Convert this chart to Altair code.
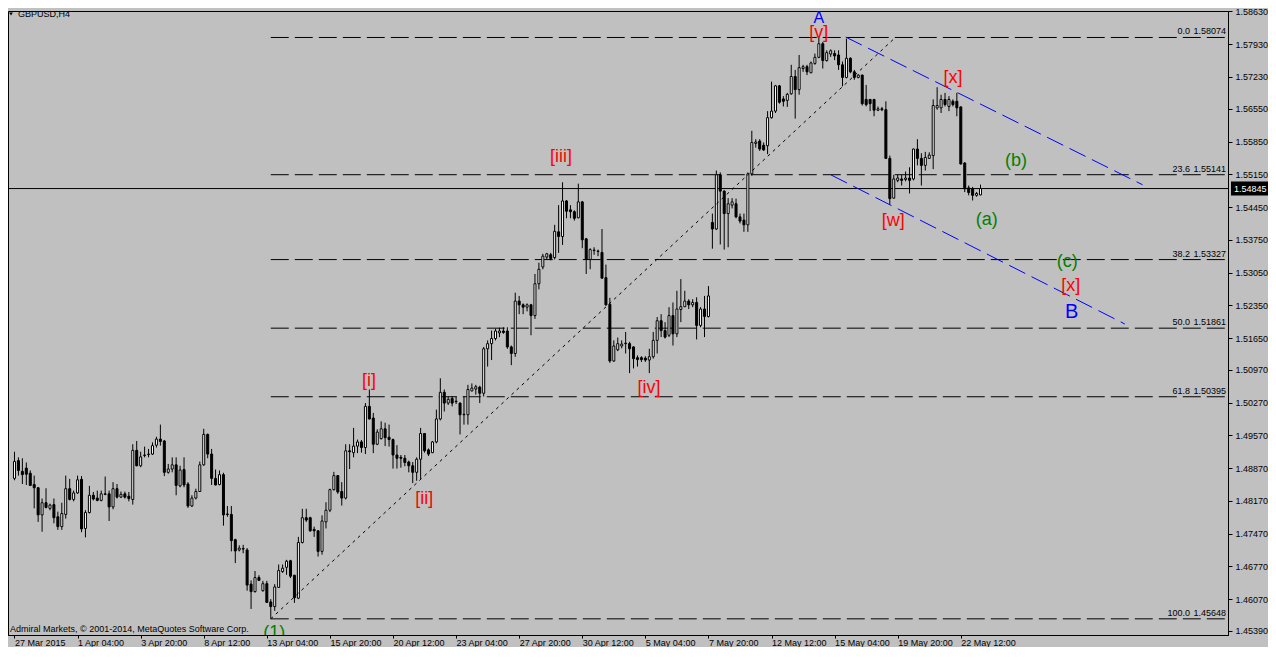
import altair as alt
import pandas as pd

# ---------------- candle data (GBPUSD H4) ----------------
opens = [
 1.4865,1.4903,1.4880,1.4887,1.4876,1.4852,1.4845,1.4787,1.4813,1.4801,
 1.4809,1.4783,1.4762,1.4788,1.4843,1.4820,1.4834,1.4863,1.4758,1.4792,
 1.4829,1.4823,1.4818,1.4832,1.4832,1.4804,1.4843,1.4825,1.4832,1.4827,
 1.4820,1.4925,1.4892,1.4914,1.4916,1.4917,1.4936,1.4949,1.4945,1.4878,
 1.4885,1.4894,1.4849,1.4884,1.4853,1.4806,1.4823,1.4837,1.4894,1.4959,
 1.4917,1.4865,1.4852,1.4873,1.4789,1.4788,1.4734,1.4712,1.4715,1.4712,
 1.4639,1.4623,1.4653,1.4625,1.4640,1.4601,1.4591,1.4632,1.4666,1.4675,
 1.4689,1.4658,1.4609,1.4728,1.4781,1.4781,1.4756,1.4753,1.4709,1.4772,
 1.4797,1.4841,1.4871,1.4837,1.4823,1.4924,1.4920,1.4934,1.4943,1.4931,
 1.5019,1.4994,1.4938,1.4950,1.4971,1.4953,1.4948,1.4915,1.4910,1.4908,
 1.4900,1.4892,1.4878,1.4906,1.4961,1.4926,1.4920,1.4943,1.4992,1.5049,
 1.5026,1.5036,1.5030,1.5026,1.5001,1.5001,1.5052,1.5056,1.5060,1.5047,
 1.5142,1.5153,1.5164,1.5176,1.5180,1.5180,1.5146,1.5132,1.5244,1.5236,
 1.5231,1.5236,1.5213,1.5281,1.5317,1.5338,1.5343,1.5337,1.5392,1.5382,
 1.5458,1.5439,1.5435,1.5422,1.5456,1.5377,1.5333,1.5352,1.5351,1.5348,
 1.5294,1.5237,1.5116,1.5140,1.5148,1.5154,1.5153,1.5146,1.5123,1.5123,
 1.5122,1.5118,1.5125,1.5160,1.5202,1.5181,1.5171,1.5213,1.5174,1.5226,
 1.5232,1.5244,1.5236,1.5241,1.5192,1.5227,1.5211,1.5412,1.5398,1.5514,
 1.5479,1.5431,1.5449,1.5452,1.5424,1.5417,1.5407,1.5516,1.5581,1.5586,
 1.5577,1.5576,1.5636,1.5650,1.5704,1.5676,1.5673,1.5687,1.5724,1.5696,
 1.5741,1.5745,1.5732,1.5752,1.5765,1.5794,1.5758,1.5772,1.5773,1.5770,
 1.5749,1.5722,1.5763,1.5734,1.5722,1.5727,1.5675,1.5675,1.5675,1.5652,
 1.5655,1.5653,1.5549,1.5464,1.5502,1.5505,1.5504,1.5507,1.5505,1.5569,
 1.5549,1.5534,1.5549,1.5555,1.5657,1.5657,1.5675,1.5660,1.5671,1.5671,
 1.5659,1.5539,1.5486,1.5484,1.5470,1.5471,
]
highs = [
 1.4922,1.4910,1.4908,1.4899,1.4882,1.4871,1.4846,1.4822,1.4844,1.4811,
 1.4822,1.4794,1.4813,1.4871,1.4864,1.4839,1.4871,1.4870,1.4797,1.4849,
 1.4836,1.4839,1.4839,1.4869,1.4839,1.4857,1.4853,1.4837,1.4837,1.4836,
 1.4938,1.4945,1.4922,1.4933,1.4928,1.4942,1.4954,1.4980,1.4947,1.4896,
 1.4910,1.4910,1.4892,1.4910,1.4857,1.4829,1.4843,1.4901,1.4971,1.4961,
 1.4928,1.4884,1.4882,1.4877,1.4806,1.4806,1.4736,1.4722,1.4723,1.4716,
 1.4647,1.4667,1.4658,1.4646,1.4646,1.4607,1.4639,1.4681,1.4681,1.4691,
 1.4691,1.4659,1.4740,1.4800,1.4800,1.4783,1.4762,1.4754,1.4786,1.4814,
 1.4843,1.4879,1.4872,1.4857,1.4938,1.4938,1.4973,1.4948,1.4947,1.5026,
 1.5055,1.5005,1.4970,1.4987,1.4984,1.4980,1.4950,1.4936,1.4915,1.4915,
 1.4903,1.4900,1.4910,1.4973,1.4962,1.4929,1.4945,1.5012,1.5079,1.5055,
 1.5040,1.5041,1.5040,1.5027,1.5041,1.5065,1.5068,1.5065,1.5063,1.5146,
 1.5160,1.5181,1.5185,1.5187,1.5188,1.5188,1.5149,1.5262,1.5255,1.5239,
 1.5239,1.5238,1.5302,1.5326,1.5345,1.5347,1.5347,1.5407,1.5449,1.5498,
 1.5460,1.5449,1.5438,1.5495,1.5458,1.5379,1.5357,1.5359,1.5354,1.5398,
 1.5322,1.5251,1.5160,1.5166,1.5160,1.5178,1.5157,1.5147,1.5128,1.5126,
 1.5126,1.5142,1.5178,1.5210,1.5216,1.5199,1.5231,1.5241,1.5266,1.5291,
 1.5266,1.5248,1.5248,1.5252,1.5231,1.5255,1.5276,1.5431,1.5523,1.5519,
 1.5481,1.5464,1.5464,1.5463,1.5431,1.5431,1.5519,1.5608,1.5590,1.5590,
 1.5583,1.5650,1.5713,1.5706,1.5706,1.5682,1.5689,1.5749,1.5738,1.5770,
 1.5749,1.5749,1.5756,1.5773,1.58074,1.5798,1.5780,1.5782,1.5780,1.5780,
 1.5756,1.5805,1.5765,1.5738,1.5729,1.5728,1.5706,1.5676,1.5676,1.5660,
 1.5659,1.5671,1.5555,1.5514,1.5514,1.5514,1.5521,1.5530,1.5570,1.5590,
 1.5560,1.5563,1.5562,1.5675,1.5701,1.5685,1.5689,1.5682,1.5675,1.5689,
 1.5660,1.5541,1.5491,1.5488,1.5477,1.5493,
]
lows = [
 1.4861,1.4871,1.4853,1.4851,1.4849,1.4801,1.4772,1.4751,1.4801,1.4797,
 1.4769,1.4755,1.4755,1.4779,1.4818,1.4816,1.4832,1.4750,1.4739,1.4790,
 1.4818,1.4816,1.4816,1.4829,1.4774,1.4799,1.4822,1.4823,1.4822,1.4816,
 1.4809,1.4891,1.4889,1.4910,1.4910,1.4915,1.4931,1.4935,1.4870,1.4875,
 1.4878,1.4829,1.4846,1.4846,1.4802,1.4804,1.4820,1.4836,1.4892,1.4908,
 1.4851,1.4850,1.4850,1.4764,1.4783,1.4709,1.4684,1.4709,1.4705,1.4625,
 1.4586,1.4621,1.4646,1.4623,1.4599,1.45648,1.4582,1.4631,1.4663,1.4659,
 1.4652,1.4599,1.4607,1.4726,1.4772,1.4751,1.4740,1.4698,1.4702,1.4758,
 1.4793,1.4839,1.4832,1.4807,1.4820,1.4885,1.4910,1.4919,1.4920,1.4917,
 1.4991,1.4919,1.4936,1.4948,1.4934,1.4933,1.4886,1.4886,1.4888,1.4891,
 1.4878,1.4855,1.4860,1.4864,1.4920,1.4913,1.4919,1.4940,1.4989,1.5008,
 1.5022,1.5019,1.5024,1.4959,1.4980,1.4980,1.5051,1.5044,1.5026,1.5040,
 1.5104,1.5118,1.5160,1.5167,1.5174,1.5142,1.5107,1.5125,1.5216,1.5216,
 1.5222,1.5171,1.5206,1.5269,1.5312,1.5333,1.5331,1.5333,1.5347,1.5364,
 1.5421,1.5421,1.5416,1.5421,1.5357,1.5302,1.5312,1.5343,1.5340,1.5292,
 1.5234,1.5112,1.5114,1.5137,1.5143,1.5132,1.5090,1.5100,1.5104,1.5114,
 1.5114,1.5090,1.5121,1.5132,1.5167,1.5164,1.5167,1.5149,1.5167,1.5199,
 1.5231,1.5227,1.5231,1.5162,1.5188,1.5167,1.5209,1.5356,1.5396,1.5365,
 1.5354,1.5359,1.5442,1.5421,1.5410,1.5392,1.5392,1.5512,1.5572,1.5565,
 1.5565,1.5558,1.5634,1.5646,1.5666,1.5660,1.5659,1.5685,1.5634,1.5685,
 1.5734,1.5727,1.5731,1.5749,1.5763,1.5741,1.5756,1.5766,1.5759,1.5738,
 1.5703,1.5720,1.5731,1.5717,1.5720,1.5662,1.5660,1.5650,1.5639,1.5650,
 1.5650,1.5548,1.5450,1.5463,1.5498,1.5491,1.5500,1.5474,1.5502,1.5534,
 1.5491,1.5523,1.5548,1.5526,1.5653,1.5646,1.5660,1.5650,1.5660,1.5639,
 1.5536,1.5477,1.5470,1.5459,1.5467,1.5470,
]
closes = [
 1.4901,1.4882,1.4873,1.4874,1.4850,1.4845,1.4787,1.4813,1.4803,1.4808,
 1.4781,1.4762,1.4790,1.4843,1.4820,1.4834,1.4862,1.4757,1.4792,1.4829,
 1.4821,1.4818,1.4832,1.4831,1.4804,1.4843,1.4825,1.4831,1.4825,1.4822,
 1.4925,1.4892,1.4911,1.4915,1.4917,1.4935,1.4949,1.4944,1.4878,1.4885,
 1.4894,1.4850,1.4883,1.4851,1.4806,1.4823,1.4837,1.4894,1.4959,1.4917,
 1.4865,1.4851,1.4873,1.4787,1.4788,1.4732,1.4710,1.4716,1.4714,1.4637,
 1.4623,1.4653,1.4647,1.4640,1.4600,1.4591,1.4633,1.4668,1.4673,1.4688,
 1.4656,1.4610,1.4728,1.4781,1.4776,1.4753,1.4753,1.4709,1.4774,1.4797,
 1.4841,1.4871,1.4836,1.4823,1.4924,1.4922,1.4934,1.4943,1.4931,1.5019,
 1.4992,1.4938,1.4964,1.4971,1.4952,1.4948,1.4915,1.4908,1.4908,1.4899,
 1.4892,1.4878,1.4906,1.4961,1.4924,1.4917,1.4943,1.4992,1.5049,1.5026,
 1.5034,1.5026,1.5029,1.5001,1.5002,1.5055,1.5058,1.5061,1.5047,1.5142,
 1.5153,1.5164,1.5180,1.5180,1.5177,1.5146,1.5132,1.5244,1.5236,1.5231,
 1.5236,1.5213,1.5281,1.5312,1.5340,1.5345,1.5335,1.5393,1.5382,1.5458,
 1.5436,1.5435,1.5421,1.5456,1.5375,1.5333,1.5354,1.5353,1.5350,1.5293,
 1.5236,1.5116,1.5148,1.5153,1.5152,1.5153,1.5142,1.5121,1.5119,1.5119,
 1.5118,1.5125,1.5160,1.5202,1.5181,1.5167,1.5213,1.5174,1.5227,1.5232,
 1.5244,1.5236,1.5241,1.5192,1.5227,1.5211,1.5255,1.5398,1.5514,1.5479,
 1.5431,1.5452,1.5456,1.5424,1.5415,1.5407,1.5516,1.5583,1.5584,1.5569,
 1.5567,1.5636,1.5650,1.5704,1.5669,1.5671,1.5686,1.5724,1.5696,1.5743,
 1.5745,1.5734,1.5753,1.5765,1.5794,1.5758,1.5775,1.5779,1.5768,1.5749,
 1.5722,1.5763,1.5734,1.5722,1.5727,1.5666,1.5664,1.5666,1.5652,1.5655,
 1.5653,1.5549,1.5463,1.5505,1.5507,1.5502,1.5507,1.5502,1.5569,1.5549,
 1.5534,1.5551,1.5556,1.5662,1.5662,1.5675,1.5664,1.5675,1.5664,1.5657,
 1.5537,1.5484,1.5476,1.5470,1.5474,1.54845,
]

# ---------------- axis labels ----------------
x_tick_idx = [0, 16, 32, 48, 64, 80, 96, 112, 128, 144, 160, 176, 192, 208, 224, 240]
x_tick_text = ["27 Mar 2015", "1 Apr 04:00", "3 Apr 20:00", "8 Apr 12:00", "13 Apr 04:00",
               "15 Apr 20:00", "20 Apr 12:00", "23 Apr 04:00", "27 Apr 20:00", "30 Apr 12:00",
               "5 May 04:00", "7 May 20:00", "12 May 12:00", "15 May 04:00", "19 May 20:00",
               "22 May 12:00"]
y_ticks = [1.58630, 1.57930, 1.57230, 1.56550, 1.55850, 1.55150, 1.54450, 1.53750, 1.53050,
           1.52350, 1.51650, 1.50970, 1.50270, 1.49570, 1.48870, 1.48170, 1.47470, 1.46770,
           1.46070, 1.45390]

# ---------------- fibonacci retracement ----------------
fib_levels = ["0.0", "23.6", "38.2", "50.0", "61.8", "100.0"]
fib_prices = [1.58074, 1.55141, 1.53327, 1.51861, 1.50395, 1.45648]
fib_start_bar = 65
fib_diag_bars = [65, 223.4]
fib_diag_prices = [1.45648, 1.58074]

last_price = 1.54845

# ---------------- channel lines ----------------
chan_group = ["upper", "upper", "lower", "lower"]
chan_bars = [210.8, 286.1, 207.05, 281.6]
chan_prices = [1.58084, 1.54926, 1.55138, 1.51950]

# ---------------- wave labels ----------------
RED, GREEN, BLUE = "#FF0000", "#008000", "#0000FF"
wave_text = ["A", "[v]", "[x]", "[w]", "(a)", "(b)", "(c)", "[x]", "B",
             "[iii]", "[iv]", "[i]", "[ii]", "(1)"]
wave_bar = [204, 204, 238, 222.9, 246.6, 254, 267, 267.9, 268.1,
            138.6, 160.9, 89.9, 103.9, 65.9]
wave_price = [1.58500, 1.58170, 1.57210, 1.54144, 1.54165, 1.55434, 1.53276, 1.52769, 1.52208,
              1.55518, 1.50580, 1.50738, 1.48200, 1.45345]
wave_color = [BLUE, RED, RED, RED, GREEN, GREEN, GREEN, RED, BLUE,
              RED, RED, RED, RED, GREEN]
wave_size = [16, 18, 18, 18, 18, 18, 18, 18, 20, 18, 18, 18, 18, 18]

# ---------------- build chart ----------------
W, H = 1220, 624
PAD_T, PAD_R, PAD_B = 3, 40, 12
FONT = "Liberation Sans"

candles = pd.DataFrame({"idx": list(range(len(opens))), "open": opens, "high": highs,
                        "low": lows, "close": closes})
fib_df = pd.DataFrame({"lvl": fib_levels, "price": fib_prices,
                       "start": [fib_start_bar] * len(fib_levels),
                       "ptxt": ["%.5f" % p for p in fib_prices]})
diag_df = pd.DataFrame({"idx": fib_diag_bars, "price": fib_diag_prices})
chan_df = pd.DataFrame({"grp": chan_group, "idx": chan_bars, "price": chan_prices})
wave_df = pd.DataFrame({"t": wave_text, "idx": wave_bar, "price": wave_price,
                        "col": wave_color, "fs": wave_size})
last_df = pd.DataFrame({"price": [last_price], "ptxt": ["%.5f" % last_price]})

xs = alt.Scale(domain=[-0.377, 306.50], nice=False, zero=False)
ys = alt.Scale(domain=[1.45303, 1.58640], nice=False, zero=False)

label_js = "[" + ",".join("'%s'" % t for t in x_tick_text) + "]"
x_axis = alt.Axis(values=x_tick_idx, labelExpr=label_js + "[round(datum.value / 16)]",
                  labelAlign="left", labelBaseline="top", tickSize=3, labelPadding=0,
                  labelFont=FONT, labelFontSize=9, labelColor="black", tickColor="black",
                  domainColor="black", grid=False, title=None, labelFlush=False,
                  labelOverlap=False, labelBound=False)
y_axis = alt.Axis(orient="right", values=y_ticks, format=".5f", tickSize=4, labelPadding=3,
                  labelFont=FONT, labelFontSize=9, labelColor="black", tickColor="black",
                  domainColor="black", grid=False, title=None, labelFlush=False,
                  labelOverlap=False, labelBound=False)


def X(f):
    return alt.X(f, type="quantitative", scale=xs, axis=x_axis)


def Y(f):
    return alt.Y(f, type="quantitative", scale=ys, axis=y_axis)


fib_lines = alt.Chart(fib_df).mark_rule(color="black", strokeWidth=1, strokeDash=[18, 6]).encode(
    x=X("start"), x2=alt.value(W), y=Y("price"))
fib_lvl_txt = alt.Chart(fib_df).mark_text(font=FONT, fontSize=9, align="right",
                                          baseline="alphabetic", dy=-3, color="black").encode(
    x=alt.value(1182), y=Y("price"), text="lvl:N")
fib_price_txt = alt.Chart(fib_df).mark_text(font=FONT, fontSize=9, align="right",
                                            baseline="alphabetic", dy=-3, color="black").encode(
    x=alt.value(W - 2), y=Y("price"), text="ptxt:N")

last_line = alt.Chart(last_df).mark_rule(color="black", strokeWidth=1).encode(y=Y("price"))

wicks = alt.Chart(candles).mark_rule(color="black", strokeWidth=1).encode(
    x=X("idx"), y=Y("low"), y2="high:Q")
bodies = alt.Chart(candles).mark_bar(size=2, stroke="black", strokeWidth=1).encode(
    x=X("idx"), y=Y("open"), y2="close:Q",
    fill=alt.when(alt.datum.close >= alt.datum.open).then(alt.value("white")).otherwise(alt.value("black")))

diag = alt.Chart(diag_df).mark_line(color="black", strokeWidth=1, strokeDash=[3, 4]).encode(
    x=X("idx"), y=Y("price"))
chan = alt.Chart(chan_df).mark_line(color=BLUE, strokeWidth=1, strokeDash=[18, 7]).encode(
    x=X("idx"), y=Y("price"), detail="grp:N")

wave_enc = dict(x=X("idx"), y=Y("price"), text="t:N",
                color=alt.Color("col:N", scale=None), size=alt.Size("fs:Q", scale=None))
waves = alt.Chart(wave_df).transform_filter(alt.datum.t != "(1)").mark_text(
    font=FONT, align="center", baseline="middle").encode(**wave_enc)
waves_clip = alt.Chart(wave_df).transform_filter(alt.datum.t == "(1)").mark_text(
    font=FONT, align="center", baseline="middle", clip=True).encode(**wave_enc)

price_box = alt.Chart(last_df).mark_rule(color="black", strokeWidth=14).encode(
    x=alt.value(W + 3), x2=alt.value(W + PAD_R), y=Y("price"))
price_box_txt = alt.Chart(last_df).mark_text(font=FONT, fontSize=9, align="left",
                                             baseline="middle", color="white").encode(
    x=alt.value(W + 6), y=Y("price"), text="ptxt:N")

title_df = pd.DataFrame({"t": ["GBPUSD,H4"]})
title_txt = alt.Chart(title_df).mark_text(font=FONT, fontSize=9, align="left", baseline="middle",
                                          color="black").encode(
    x=alt.value(10), y=alt.value(3), text="t:N")
title_tri = alt.Chart(title_df).mark_point(shape="triangle-down", filled=True, size=14,
                                           color="black", opacity=1).encode(
    x=alt.value(3), y=alt.value(3))
copy_df = pd.DataFrame({"t": ["Admiral Markets, \u00a9 2001-2014, MetaQuotes Software Corp."]})
copy_txt = alt.Chart(copy_df).mark_text(font=FONT, fontSize=9, align="left", baseline="middle",
                                        color="black").encode(
    x=alt.value(2), y=alt.value(H - 6), text="t:N")

chart = alt.layer(
    fib_lines, last_line, wicks, bodies, diag, chan, fib_lvl_txt, fib_price_txt,
    waves, waves_clip, price_box, price_box_txt, title_tri, title_txt, copy_txt
).properties(
    width=W, height=H,
    autosize=alt.AutoSizeParams(type="none"),
    padding={"left": 0, "top": PAD_T, "right": PAD_R, "bottom": PAD_B}
).configure(
    background="#C0C0C0"
).configure_view(
    stroke="black", strokeWidth=1, fill="#C0C0C0"
)

chart.save("out.html", embed_options={"renderer": "svg", "actions": False})
